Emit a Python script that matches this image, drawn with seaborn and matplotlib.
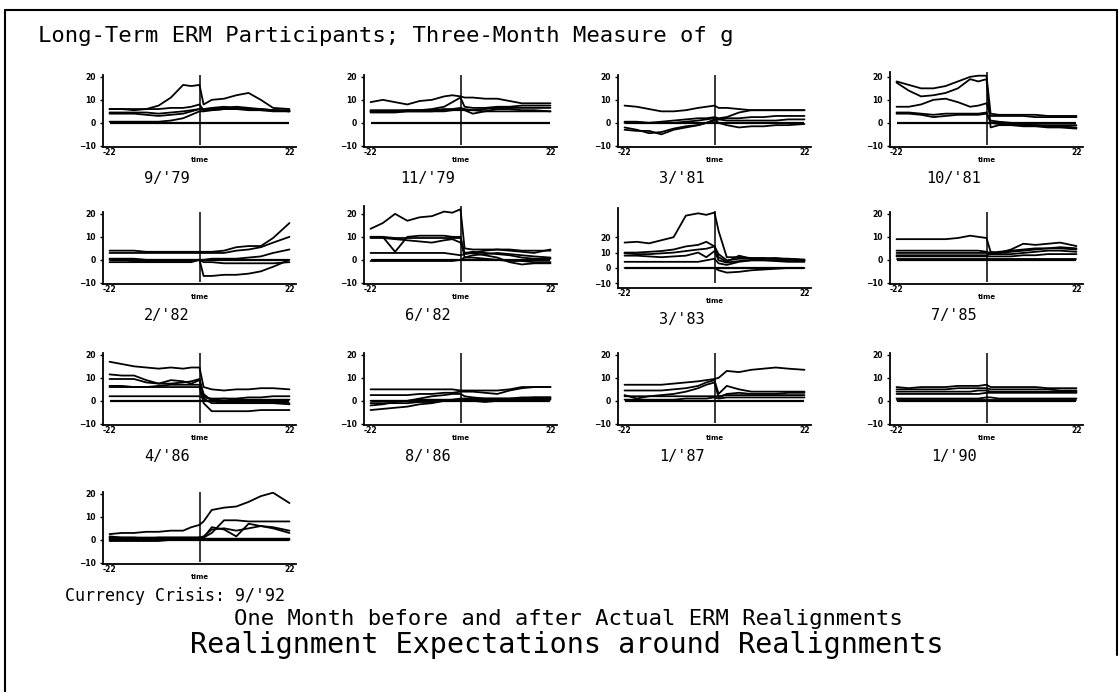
import matplotlib.pyplot as plt
import seaborn as sns
import pandas as pd
from matplotlib.lines import Line2D

# Meses alrededor del realineamiento (eje x de cada panel)
months = [-22, -19, -16, -13, -10, -7, -4, -2, 0, 1, 3, 6, 9, 12, 15, 18, 22]

# Series de g por panel (una lista por participante)
sep79 = [
    [6, 6, 5.5, 6, 7.5, 11, 16.5, 16, 16.5, 8, 10, 10.5, 12, 13, 10, 6.5, 6],
    [6, 6, 6, 6, 6, 6.5, 6.5, 7, 8, 5.5, 6, 6.5, 7, 6.5, 6, 5.5, 5],
    [4, 4, 4, 3.5, 3, 3.5, 4, 5, 6, 5.5, 5.5, 6, 6, 5.5, 5.5, 5, 5],
    [4.5, 4.5, 4.5, 4.5, 4, 4.5, 5, 5.5, 6, 6, 6.5, 7, 6.5, 6, 6, 5.5, 5],
    [0.5, 0.5, 0.5, 0.5, 0.5, 1, 2, 3.5, 5, 5, 5.5, 6, 6, 6, 5.5, 5.5, 5.5],
]
nov79 = [
    [9, 10, 9, 8, 9.5, 10, 11.5, 12, 11.5, 11, 11, 10.5, 10.5, 9.5, 8.5, 8.5, 8.5],
    [5, 5, 5, 5.5, 5.5, 6, 7, 9, 11, 7, 6.5, 6.5, 7, 7, 7.5, 7.5, 7.5],
    [5.5, 5.5, 5.5, 5.5, 5.5, 5.5, 6, 6, 6.5, 6, 5.5, 6, 6.5, 6.5, 6.5, 6.5, 6.5],
    [4.5, 4.5, 4.5, 5, 5, 5, 5, 5.5, 6, 5.5, 4, 5, 6, 6, 5.5, 5.5, 5],
    [5, 5, 5, 5, 5, 5, 5.5, 5.5, 5.5, 5.5, 5.5, 5, 5, 5, 5, 5, 5],
]
mar81 = [
    [7.5, 7, 6, 5, 5, 5.5, 6.5, 7, 7.5, 6.5, 6.5, 6, 5.5, 5.5, 5.5, 5.5, 5.5],
    [0, 0, 0, 0.5, 1, 1.5, 2, 2, 2.5, 2, 2.5, 4.5, 5.5, 5.5, 5.5, 5.5, 5.5],
    [-2, -3, -4.5, -4, -2.5, -1.5, -1, 0, 1, 1.5, 2, 2, 2.5, 2.5, 3, 3, 3],
    [-3, -3.5, -3.5, -5, -3, -2, -1, 0, 1.5, 0, -1, -2, -1.5, -1.5, -1, -1, -0.5],
    [0.5, 0.5, 0, 0, 0, 0.5, 1, 1.5, 2, 1.5, 1, 1, 1, 1, 1, 1.5, 1.5],
]
oct81 = [
    [18, 16.5, 15, 15, 16, 18, 20, 20.5, 20.5, 4, 3.5, 3.5, 3.5, 3.5, 3, 3, 3],
    [17.5, 14, 11.5, 12, 13, 15, 19, 18, 19, -2, -1, -1, -1.5, -1.5, -2, -2, -2.5],
    [7, 7, 8, 10, 10.5, 9, 7, 7.5, 8.5, 3, 3, 3, 3, 2.5, 2.5, 2.5, 2.5],
    [4.5, 4.5, 4, 3.5, 4, 4, 4, 4, 4.5, 0, -0.5, -0.5, -1, -1, -1.5, -1.5, -2],
    [4, 4, 3.5, 2.5, 3, 3.5, 3.5, 3.5, 4, 1, 0.5, 0, -0.5, -1, -1, -1, -1],
]
feb82 = [
    [4, 4, 4, 3.5, 3.5, 3.5, 3.5, 3.5, 3.5, 3.5, 3.5, 4, 5.5, 6, 6, 9.5, 16],
    [3, 3, 3, 3, 3, 3, 3, 3, 3, 3, 3, 3, 4, 4.5, 5.5, 7.5, 10],
    [0.5, 0.5, 0.5, 0, 0, 0, 0, 0, 0, 0, 0.5, 0.5, 0.5, 1, 1.5, 3, 4.5],
    [0, 0, -0.5, -0.5, -0.5, -0.5, -0.5, -0.5, 0, -7, -7, -6.5, -6.5, -6, -5, -3, 0],
    [-1, -1, -1, -1, -1, -1, -1, -1, 0, -1, -1, -1.5, -1.5, -1.5, -1.5, -1.5, -1],
]
jun82 = [
    [13.5, 16, 20, 17, 18.5, 19, 21, 20.5, 22, 5, 4.5, 4.5, 4.5, 4, 3.5, 3, 4.5],
    [10, 10, 9.5, 9.5, 9.5, 9.5, 9.5, 9.5, 9.5, 1, 2, 2.5, 3, 2.5, 2, 1.5, 1],
    [10, 10, 3.5, 10, 10.5, 10.5, 10.5, 10, 10, 3, 3.5, 3, 2.5, 2, 1, 0.5, 0.5],
    [9.5, 9.5, 9, 8.5, 8, 7.5, 8.5, 9, 7.5, 3, 3, 4, 4.5, 4.5, 4, 4, 4],
    [3, 3, 3, 3, 3, 3, 3, 2.5, 2, 2.5, 3, 2, 1, -1, -2, -1.5, -1.5],
    [-0.5, -0.5, -0.5, -0.5, -0.5, -0.5, -0.5, -0.5, 0, 1, 1, 0.5, 0, -0.5, -0.5, -1, -1],
]
mar83 = [
    [16.5, 17, 16, 18, 20, 34, 35.5, 34.5, 36, 24, 7, 7, 6.5, 6.5, 6, 6, 5.5],
    [10, 10, 10.5, 11, 12, 14, 15, 17, 14, 9, 5, 6, 6, 6, 6.5, 5.5, 5],
    [9.5, 9, 9, 9.5, 10, 11, 12, 12.5, 14, 7, 4, 8, 6, 6, 6, 6, 5],
    [8, 8, 7.5, 7, 7.5, 8, 10, 7, 11, 5, 3.5, 4.5, 5, 5, 5, 4.5, 4.5],
    [4, 4, 4, 4, 4, 4, 4, 5, 6, 3, 2, 4, 5, 5, 4.5, 4, 4],
    [0, 0, 0, 0, 0, 0, 0, 0, 0, -1.5, -3, -2.5, -1.5, -1, -0.5, 0, 0],
]
jul85 = [
    [9, 9, 9, 9, 9, 9.5, 10.5, 10, 9.5, 3.5, 3, 4.5, 7, 6.5, 7, 7.5, 6],
    [4, 4, 4, 4, 4, 4, 4, 4, 3.5, 3, 3.5, 4, 4.5, 5, 5, 5.5, 5],
    [3, 3, 3, 3, 3, 3, 3, 3, 3, 3, 3, 3.5, 4, 4.5, 5, 5, 4.5],
    [2, 2, 2, 2, 2, 2, 2, 2, 2, 2.5, 2.5, 2.5, 3, 3.5, 4, 4, 3.5],
    [1.5, 1.5, 1.5, 1.5, 1.5, 1.5, 1.5, 1.5, 1.5, 1.5, 1.5, 1.5, 2, 2, 2.5, 2.5, 2.5],
    [0.5, 0.5, 0.5, 0.5, 0.5, 0.5, 0.5, 0.5, 0.5, 0.5, 0.5, 0.5, 0.5, 0.5, 0.5, 0.5, 0.5],
]
apr86 = [
    [17, 16, 15, 14.5, 14, 14.5, 14, 14.5, 14.5, 6, 5, 4.5, 5, 5, 5.5, 5.5, 5],
    [11.5, 11, 11, 9, 7.5, 7.5, 8, 8.5, 9.5, 2, 0.5, 1, 1, 1.5, 1.5, 2, 2],
    [9.5, 9.5, 9.5, 8, 7.5, 9, 8.5, 7.5, 9, 3, 0, -1, -0.5, -0.5, -0.5, -0.5, -1],
    [6, 6, 6, 6, 6, 6, 6, 6, 6, -1, -4.5, -4.5, -4.5, -4.5, -4, -4, -4],
    [6.5, 6.5, 6, 6, 6.5, 7, 7, 7, 7, 1, -1, -1, -1, -1, -1, -1, -1.5],
    [2, 2, 2, 2, 2, 2, 2, 2, 2, 1.5, 1, 1, 0.5, 0.5, 0.5, 0.5, 0.5],
]
aug86 = [
    [5, 5, 5, 5, 5, 5, 5, 5, 4.5, 4.5, 4.5, 4.5, 4.5, 5, 6, 6, 6],
    [2.5, 2.5, 2.5, 2.5, 3, 3, 3.5, 3.5, 4, 4, 4, 3.5, 3, 4.5, 5.5, 6, 6],
    [-4, -3.5, -3, -2.5, -1.5, -1, 0, 0.5, 1, 1, 1, 1, 1, 1, 1, 1.5, 1.5],
    [-2, -1.5, -0.5, 0, 1, 2, 2.5, 3, 3, 2, 1.5, 1, 1, 1, 1.5, 1.5, 1.5],
    [0, 0, 0, 0, 0.5, 0.5, 0.5, 0.5, 0.5, 0.5, 0, -0.5, 0, 0.5, 1, 1, 1],
    [-1, -1, -1, -1, -0.5, -0.5, 0, 0, 0.5, 0.5, 0.5, 0.5, 0.5, 0.5, 0.5, 0.5, 0.5],
]
jan87 = [
    [7, 7, 7, 7, 7.5, 8, 8.5, 9, 9.5, 10, 13, 12.5, 13.5, 14, 14.5, 14, 13.5],
    [4.5, 4.5, 4.5, 4.5, 5, 5.5, 6.5, 8, 9, 3, 6.5, 5, 4, 4, 4, 4, 4],
    [2.5, 1, 2, 2.5, 3, 4, 5.5, 7, 8, 1.5, 3, 3.5, 3, 3, 3, 3.5, 3.5],
    [2, 2, 2, 2, 2, 2, 2, 2, 2, 2, 2.5, 2.5, 2.5, 2.5, 2.5, 2.5, 2.5],
    [0.5, 0.5, 0.5, 0.5, 0.5, 1, 1, 1, 1.5, 1, 1.5, 1.5, 1.5, 1.5, 1.5, 1.5, 1.5],
]
jan90 = [
    [6, 5.5, 6, 6, 6, 6.5, 6.5, 6.5, 7, 6, 6, 6, 6, 6, 5.5, 5.5, 5.5],
    [5, 5, 5, 5, 5, 5.5, 5.5, 5.5, 5.5, 5, 5, 5, 5, 5, 5, 4.5, 4.5],
    [4, 4, 4, 4, 4, 4, 4, 4.5, 4.5, 4, 4, 4, 4, 4, 4, 4, 4],
    [3, 3, 3, 3, 3, 3, 3, 3, 3.5, 3.5, 3.5, 3.5, 3.5, 3.5, 3.5, 3.5, 3.5],
    [1, 1, 1, 1, 1, 1, 1, 1, 1.5, 1.5, 1, 1, 1, 1, 1, 1, 1],
    [0.5, 0.5, 0.5, 0.5, 0.5, 0.5, 0.5, 0.5, 0.5, 0.5, 0.5, 0.5, 0.5, 0.5, 0.5, 0.5, 0.5],
]
sep92 = [
    [2.5, 3, 3, 3.5, 3.5, 4, 4, 5.5, 6.5, 8, 13, 14, 14.5, 16.5, 19, 20.5, 16],
    [0.5, 0.5, 0.5, 0.5, 1, 1, 1, 1, 1, 1, 3, 8.5, 8.5, 8, 8, 8, 8],
    [0, 0, 0, 0, 0, 0, 0.5, 0.5, 0.5, 1, 5.5, 4.5, 1.5, 7, 6, 5.5, 4],
    [1, 1, 1, 1, 1, 1, 1, 1, 1, 1.5, 4.5, 5, 4, 5, 6, 5, 3],
    [-0.5, -0.5, -0.5, -0.5, -0.5, 0, 0, 0, 0.5, 0.5, 0.5, 0.5, 0.5, 0.5, 0.5, 0.5, 0.5],
    [1.5, 1, 1, 0.5, 0.5, 0.5, 0.5, 0.5, 1, 0.5, 0, 0, 0, 0, 0, 0, 0],
]

panels = [sep79, nov79, mar81, oct81, feb82, jun82, mar83, jul85,
          apr86, aug86, jan87, jan90, sep92]
labels = ["9/'79", "11/'79", "3/'81", "10/'81", "2/'82", "6/'82", "3/'83",
          "7/'85", "4/'86", "8/'86", "1/'87", "1/'90", "9/'92"]
# Limite superior del eje y en cada panel (el resto usa 21)
y_top = {"10/'81": 22, "6/'82": 23.5, "3/'83": 39}

sns.set_theme(style='ticks')
plt.rcParams['font.family'] = ['DejaVu Sans Mono', 'DejaVu Sans']
plt.rcParams['text.color'] = 'black'
plt.rcParams['xtick.color'] = 'black'
plt.rcParams['ytick.color'] = 'black'
plt.rcParams['axes.labelcolor'] = 'black'

# Tamaño de la figura en pixeles
W, H = 1119, 692
fig = plt.figure(figsize=(W / 100, H / 100), dpi=100)
fig.patch.set_facecolor('white')

# Posiciones de los paneles (pixeles desde arriba a la izquierda)
col_left = [103, 364, 618, 890]
row_bottom = [147, 284, 425, 564]
ax_w = 193
px_unit = 2.3  # pixeles por unidad de g

for i, (lines, label) in enumerate(zip(panels, labels)):
    r, c = divmod(i, 4)
    left, bottom = col_left[c], row_bottom[r]
    ylo, yhi = -10.5, y_top.get(label, 21)
    scale = px_unit
    vtop = yhi
    if label == "3/'83":
        # este panel usa una escala mas alta
        bottom, ylo, scale, vtop = 288, -13, 1.54, 37
    h = (yhi - ylo) * scale
    ax = fig.add_axes([left / W, 1 - bottom / H, ax_w / W, h / H])

    df = pd.DataFrame(
        [(k, t, v) for k, line in enumerate(lines) for t, v in zip(months, line)],
        columns=['serie', 'time', 'g'])
    sns.lineplot(data=df, x='time', y='g', units='serie', estimator=None,
                 color='black', lw=1.3, ax=ax, legend=False)

    # linea de cero y linea vertical del realineamiento
    ax.hlines(0, -22, 22, color='black', lw=1.6)
    ax.vlines(0, -9.5, vtop, color='black', lw=1.1)

    ax.set_xlim(-23.6, 23.6)
    ax.set_ylim(ylo, yhi)
    ax.set_yticks([-10, 0, 10, 20])
    ax.set_xticks([-22, 22])
    ax.set_xticklabels(['-22', '22'])
    ax.tick_params(axis='y', labelsize=5.5, length=2, width=1, pad=3)
    ax.tick_params(axis='x', labelsize=5.5, length=0, pad=1)
    for lbl in ax.get_xticklabels() + ax.get_yticklabels():
        lbl.set_fontfamily('DejaVu Sans')
        lbl.set_fontweight('bold')
    ax.set_ylabel('')
    ax.set_xlabel('time', fontsize=5, fontweight='bold', family='DejaVu Sans',
                  labelpad=0)
    for s in ['top', 'right']:
        ax.spines[s].set_visible(False)
    for s in ['left', 'bottom']:
        ax.spines[s].set_linewidth(1.3)
        ax.spines[s].set_color('black')
    ax.set_facecolor('none')

    if label == "9/'92":
        ax.annotate("Currency Crisis: " + label, xy=(65 / W, 0),
                    xycoords=('figure fraction', 'axes fraction'),
                    xytext=(0, -23), textcoords='offset points',
                    ha='left', va='center', fontsize=12)
    else:
        ax.annotate(label, xy=(0.33, 0), xycoords='axes fraction',
                    xytext=(0, -23), textcoords='offset points',
                    ha='center', va='center', fontsize=11)

# Textos generales
fig.text(38 / W, 1 - 42 / H, 'Long-Term ERM Participants; Three-Month Measure of g',
         ha='left', va='baseline', fontsize=16)
fig.text(568 / W, 1 - 625 / H, 'One Month before and after Actual ERM Realignments',
         ha='center', va='baseline', fontsize=16)
fig.text(567 / W, 1 - 653 / H, 'Realignment Expectations around Realignments',
         ha='center', va='baseline', fontsize=20.5)

# Marco de la figura
fig.add_artist(Line2D([5 / W, 5 / W], [0, 1 - 10 / H], transform=fig.transFigure,
                      color='black', lw=1.5))
fig.add_artist(Line2D([5 / W, 1117 / W], [1 - 10 / H, 1 - 10 / H],
                      transform=fig.transFigure, color='black', lw=1.5))
fig.add_artist(Line2D([1117 / W, 1117 / W], [1 - 10 / H, 1 - 655 / H],
                      transform=fig.transFigure, color='black', lw=1.5))

plt.savefig('out.png', dpi=100)
